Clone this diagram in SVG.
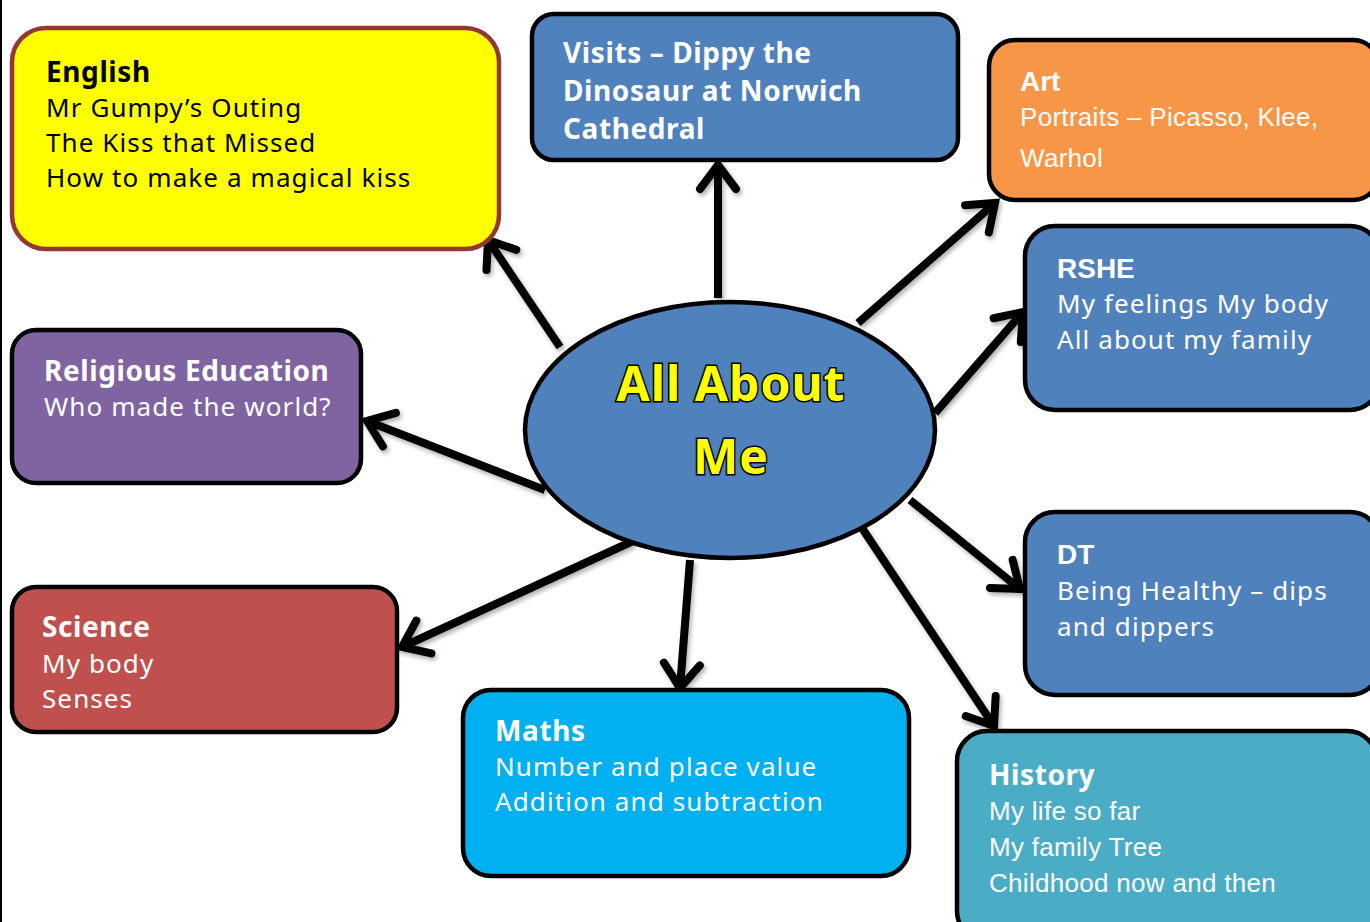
<svg xmlns="http://www.w3.org/2000/svg" width="1370" height="922" viewBox="0 0 1370 922">
<defs>
<style>
.box{stroke:#000;stroke-width:4.5}
.sas{font-family:"Noto Sans","DejaVu Sans",sans-serif;font-size:26px;letter-spacing:1.1px;fill:#fff}
.sasb{font-family:"Noto Sans","DejaVu Sans",sans-serif;font-size:28px;letter-spacing:0.6px;font-weight:bold;fill:#fff}
.cal{font-family:"Liberation Sans","Open Sans",sans-serif;font-size:26px;letter-spacing:0.3px;fill:#fff}
.calb{font-family:"Liberation Sans","Open Sans",sans-serif;font-size:28px;font-weight:bold;fill:#fff}
.blk{fill:#000}
.conn line{stroke:#000;stroke-width:8;stroke-linecap:butt;marker-end:url(#arr)}
.title{font-family:"Noto Sans","DejaVu Sans",sans-serif;font-size:48px;font-weight:bold;fill:#FFFF00;stroke:#000;stroke-width:3;paint-order:stroke;text-anchor:middle;letter-spacing:1px}
</style>
<marker id="arr" markerUnits="userSpaceOnUse" viewBox="-40 -30 48 60" refX="0" refY="0" markerWidth="48" markerHeight="60" orient="auto">
<path d="M-24,-18 L0,0 L-24,18" fill="none" stroke="#000" stroke-width="8" stroke-linecap="round" stroke-linejoin="miter"/>
</marker>
<filter id="sh" x="-10%" y="-10%" width="120%" height="120%">
<feDropShadow dx="2" dy="3" stdDeviation="2" flood-color="#000" flood-opacity="0.3"/>
</filter>
</defs>
<rect width="1370" height="922" fill="#fff"/>
<line x1="1" y1="0" x2="1" y2="922" stroke="#000" stroke-width="2"/>

<g class="conn" filter="url(#sh)">
<line x1="560" y1="347" x2="488" y2="240"/>
<line x1="718" y1="298" x2="718" y2="165"/>
<line x1="858" y1="323" x2="995" y2="203"/>
<line x1="935" y1="413" x2="1023" y2="312"/>
<line x1="545" y1="490" x2="367" y2="421"/>
<line x1="633" y1="541" x2="402" y2="647"/>
<line x1="690" y1="560" x2="680" y2="688"/>
<line x1="910" y1="500" x2="1020" y2="589"/>
<line x1="862" y1="528" x2="994" y2="726"/>
</g>

<g id="center">
<ellipse cx="730" cy="430" rx="205" ry="128" fill="#4F81BD" stroke="#000" stroke-width="4.5"/>
<text class="title" x="731" y="401">All About</text>
<text class="title" x="731" y="474">Me</text>
</g>

<g id="english">
<rect class="box" x="12" y="28" width="487" height="221" rx="34" fill="#FFFF00" style="stroke:#943634"/>
<text class="sasb blk" x="46" y="82">English</text>
<text class="sas blk" x="46" y="117">Mr Gumpy’s Outing</text>
<text class="sas blk" x="46" y="152">The Kiss that Missed</text>
<text class="sas blk" x="46" y="187">How to make a magical kiss</text>
</g>

<g id="visits">
<rect class="box" x="532" y="14" width="426" height="146" rx="22" fill="#4F81BD"/>
<text class="sasb" x="563" y="63">Visits – Dippy the</text>
<text class="sasb" x="563" y="101">Dinosaur at Norwich</text>
<text class="sasb" x="563" y="139">Cathedral</text>
</g>

<g id="art">
<rect class="box" x="989" y="40" width="390" height="160" rx="26" fill="#F79646"/>
<text class="calb" x="1020" y="91">Art</text>
<text class="cal" x="1020" y="126">Portraits – Picasso, Klee,</text>
<text class="cal" x="1020" y="167">Warhol</text>
</g>

<g id="rshe">
<rect class="box" x="1025" y="226" width="355" height="184" rx="30" fill="#4F81BD"/>
<text class="calb" x="1057" y="278">RSHE</text>
<text class="sas" x="1057" y="313">My feelings My body</text>
<text class="sas" x="1057" y="349">All about my family</text>
</g>

<g id="re">
<rect class="box" x="12" y="330" width="349" height="153" rx="24" fill="#8064A2"/>
<text class="sasb" x="44" y="381">Religious Education</text>
<text class="sas" x="44" y="416">Who made the world?</text>
</g>

<g id="science">
<rect class="box" x="12" y="587" width="385" height="145" rx="24" fill="#C0504D"/>
<text class="sasb" x="42" y="637">Science</text>
<text class="sas" x="42" y="673">My body</text>
<text class="sas" x="42" y="708">Senses</text>
</g>

<g id="maths">
<rect class="box" x="463" y="690" width="446" height="186" rx="28" fill="#00B0F0"/>
<text class="sasb" x="495" y="741">Maths</text>
<text class="sas" x="495" y="776">Number and place value</text>
<text class="sas" x="495" y="811">Addition and subtraction</text>
</g>

<g id="dt">
<rect class="box" x="1025" y="512" width="355" height="183" rx="30" fill="#4F81BD"/>
<text class="calb" x="1057" y="564">DT</text>
<text class="sas" x="1057" y="600">Being Healthy – dips</text>
<text class="sas" x="1057" y="636">and dippers</text>
</g>

<g id="history">
<rect class="box" x="957" y="731" width="420" height="210" rx="30" fill="#4BACC6"/>
<text class="sasb" x="989" y="785">History</text>
<text class="cal" x="989" y="820">My life so far</text>
<text class="cal" x="989" y="856">My family Tree</text>
<text class="cal" x="989" y="892">Childhood now and then</text>
</g>
</svg>
